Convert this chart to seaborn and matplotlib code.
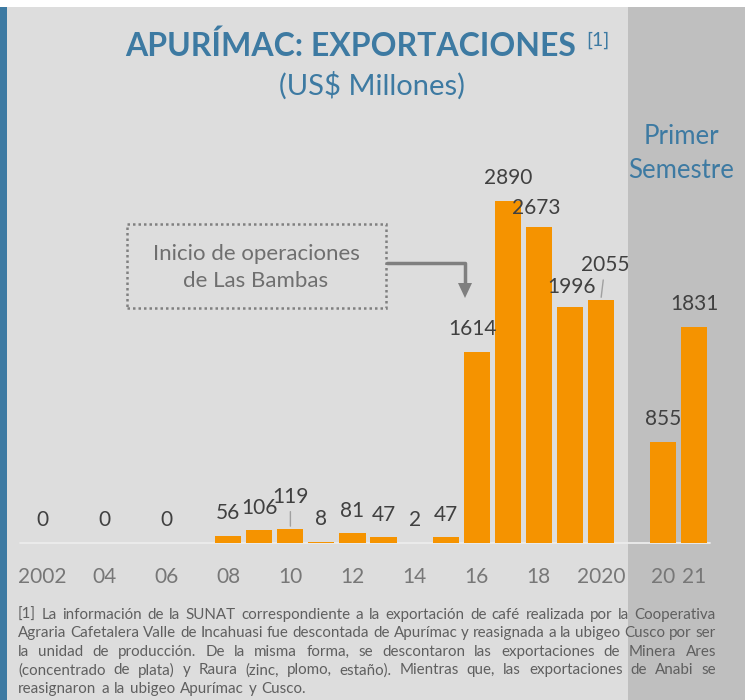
import numpy as np
import pandas as pd
import matplotlib
matplotlib.use("Agg")
import matplotlib.pyplot as plt
import seaborn as sns
from matplotlib.patches import Rectangle, Polygon
from matplotlib.lines import Line2D

# ---------------- data ----------------
years = [str(y) for y in range(2002, 2021)] + ["gap", "2020-I", "2021-I"]
values = [0, np.nan, 0, np.nan, 0, np.nan, 56, 106, 119, 8, 81, 47, 2, 47,
          1614, 2890, 2673, 1996, 2055, np.nan, 855, 1831]
tick_labels = ["2002", "", "04", "", "06", "", "08", "", "10", "", "12", "",
               "14", "", "16", "", "18", "", "2020", "", "20", "21"]

title = "APURÍMAC: EXPORTACIONES"
subtitle = "(US$ Millones)"
panel_text = "Primer\nSemestre"
note_text = "Inicio de operaciones\nde Las Bambas"
footnote_lines = [
    "[1] La información de la SUNAT correspondiente a la exportación de café realizada por la Cooperativa",
    "Agraria Cafetalera Valle de Incahuasi fue descontada de Apurímac y reasignada a la ubigeo Cusco por ser",
    "la unidad de producción. De la misma forma, se descontaron las exportaciones de Minera Ares",
    "(concentrado de plata) y Raura (zinc, plomo, estaño). Mientras que, las exportaciones de Anabi se",
    "reasignaron a la ubigeo Apurímac y Cusco.",
]

# ---------------- style ----------------
sns.set_style("white")
plt.rcParams["font.family"] = ["Lato", "DejaVu Sans"]

W, H = 745, 700
BLUE = "#3d7aa2"
ORANGE = "#f59300"
BG = "#dddddd"
PANEL = "#bfbfbf"
LABEL = "#404040"
TICK = "#777777"

fig = plt.figure(figsize=(W / 100, H / 100), dpi=100)
fig.patch.set_facecolor("white")


def fx(px):
    return px / W


def fy(py):
    return 1 - py / H


# backgrounds
fig.patches.append(Rectangle((0, 0), 1, fy(7), transform=fig.transFigure,
                             facecolor=BG, edgecolor="none", zorder=-10))
fig.patches.append(Rectangle((fx(628), 0), 1 - fx(628), fy(7), transform=fig.transFigure,
                             facecolor=PANEL, edgecolor="none", zorder=-9))
fig.patches.append(Rectangle((0, 0), fx(7), fy(7), transform=fig.transFigure,
                             facecolor=BLUE, edgecolor="none", zorder=-8))

# axes: slot centres at 42 + 31*i px, baseline at y=543 px
ax = fig.add_axes([fx(26.5), fy(543), fx(683), (402) / H])
ax.set_facecolor("none")

df = pd.DataFrame({"year": years, "value": values}).dropna()
sns.barplot(data=df, x="year", y="value", order=years, color=ORANGE,
            saturation=1, width=0.84, errorbar=None, ax=ax, zorder=3,
            linewidth=0, edgecolor="none")

ax.set_xlim(-0.5, len(years) - 0.5)
ax.set_ylim(0, 3400)
ax.set_xlabel("")
ax.set_ylabel("")
ax.set_yticks([])
ax.set_xticks(range(len(years)))
ax.set_xticklabels(tick_labels, fontsize=15, color=TICK)
ax.tick_params(axis="x", length=0, pad=17)
for s in ax.spines.values():
    s.set_visible(False)
ax.axhline(0, color="#ececec", lw=1.3, zorder=2, xmin=-0.01, xmax=1.0, clip_on=False)

# data labels
default_off = (0, 16.5)
label_offsets = {"2010": (0, 23), "2016": (-3, 17), "2018": (-2, 14),
                 "2019": (1, 14.5), "2020": (3, 25)}
leader = {"2010", "2020"}
for i, (yr, v) in enumerate(zip(years, values)):
    if np.isnan(v):
        continue
    off = label_offsets.get(yr, default_off)
    kw = {}
    if yr in leader:
        kw["arrowprops"] = dict(arrowstyle="-", color="#a0a0a0", lw=1,
                                shrinkA=1, shrinkB=2)
    ax.annotate(f"{v:.0f}", (i, v), xytext=off, textcoords="offset points",
                ha="center", va="center", fontsize=15, color=LABEL, zorder=5, **kw)

# titles
r = fig.canvas.get_renderer()
t = fig.text(fx(351), fy(46), title, ha="center", va="center", fontsize=23,
             fontweight="bold", color=BLUE)
bb = t.get_window_extent(renderer=r)
fig.text(fx(bb.x1 + 10), fy(40), "[1]", ha="left", va="center", fontsize=14, color=BLUE)
fig.text(fx(372), fy(86), subtitle, ha="center", va="center", fontsize=21, color=BLUE)
fig.text(fx(681), fy(153), panel_text, ha="center", va="center", fontsize=18.5,
         color=BLUE, linespacing=1.45)

# annotation box with arrow
fig.patches.append(Rectangle((fx(127), fy(308)), fx(386 - 127), (308 - 224) / H,
                             transform=fig.transFigure, facecolor="none",
                             edgecolor="#808080", lw=1.8, linestyle=(0, (1, 1.2))))
fig.text(fx(256), fy(267.5), note_text, ha="center", va="center", fontsize=16,
         color="#6f6f6f", linespacing=1.4)
fig.lines.append(Line2D([fx(387), fx(465), fx(465)], [fy(263), fy(263), fy(284)],
                        transform=fig.transFigure, color="#7f7f7f", lw=2.5))
fig.patches.append(Polygon([(fx(458), fy(283)), (fx(472), fy(283)), (fx(465), fy(298))],
                           closed=True, transform=fig.transFigure,
                           facecolor="#7f7f7f", edgecolor="none"))

# justified footnote
x0, x1 = 18, 716
base_fs = 10.0
probe = fig.text(0, 0, footnote_lines[1], fontsize=base_fs)
nat = probe.get_window_extent(renderer=r).width
probe.remove()
fs = base_fs * (x1 - x0) / nat * 0.995
for li, line in enumerate(footnote_lines):
    py = 615 + li * 18.4
    words = line.split(" ")
    texts = [fig.text(0, fy(py), w, ha="left", va="center", fontsize=fs, color="#5f5f5f")
             for w in words]
    widths = [tx.get_window_extent(renderer=r).width for tx in texts]
    last = li == len(footnote_lines) - 1
    if last:
        sp = fs * 1.389 * 0.32
    else:
        sp = (x1 - x0 - sum(widths)) / (len(words) - 1)
    x = x0
    for tx, w in zip(texts, widths):
        tx.set_x(fx(x))
        x += w + sp

fig.savefig("out.png", dpi=100)
